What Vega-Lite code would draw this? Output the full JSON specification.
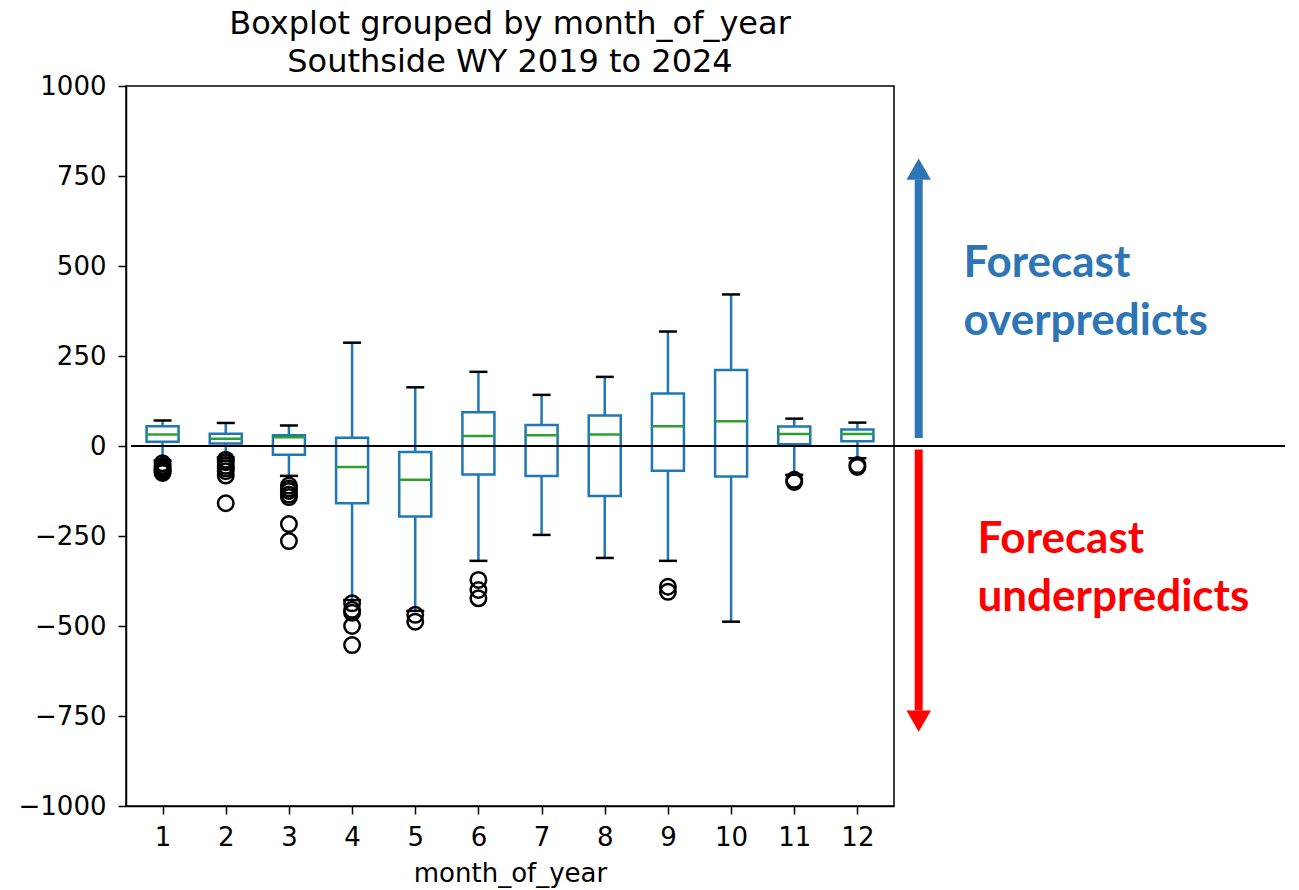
{
  "$schema": "https://vega.github.io/schema/vega-lite/v6.json",
  "width": 768,
  "height": 720,
  "autosize": {"type": "none"},
  "padding": {"left": 126, "top": 86, "right": 405, "bottom": 84},
  "background": "white",
  "title": {
    "text": ["Boxplot grouped by month_of_year", "Southside WY 2019 to 2024"],
    "font": "DejaVu Sans",
    "fontSize": 32,
    "fontWeight": "normal",
    "lineHeight": 38,
    "anchor": "middle",
    "offset": -6,
    "color": "black"
  },
  "config": {
    "view": {"stroke": "black", "strokeWidth": 1.5},
    "axis": {
      "labelFont": "DejaVu Sans",
      "titleFont": "DejaVu Sans",
      "labelFontSize": 26,
      "titleFontSize": 26,
      "titleFontWeight": "normal",
      "labelColor": "black",
      "titleColor": "black",
      "tickColor": "black",
      "domainColor": "black",
      "tickSize": 8,
      "tickWidth": 1.5,
      "domainWidth": 1.5,
      "grid": false
    }
  },
  "datasets": {
    "boxes": [
      {"month": 1, "low": -40, "q1": 12, "median": 32, "q3": 55, "high": 71},
      {"month": 2, "low": -32, "q1": 7, "median": 20, "q3": 34, "high": 64},
      {"month": 3, "low": -83, "q1": -24, "median": 24, "q3": 30, "high": 57},
      {"month": 4, "low": -428, "q1": -159, "median": -58, "q3": 23, "high": 287},
      {"month": 5, "low": -458, "q1": -196, "median": -94, "q3": -17, "high": 163},
      {"month": 6, "low": -319, "q1": -79, "median": 28, "q3": 94, "high": 206},
      {"month": 7, "low": -247, "q1": -83, "median": 30, "q3": 58, "high": 142},
      {"month": 8, "low": -311, "q1": -139, "median": 32, "q3": 85, "high": 192},
      {"month": 9, "low": -319, "q1": -69, "median": 55, "q3": 146, "high": 318},
      {"month": 10, "low": -488, "q1": -85, "median": 69, "q3": 211, "high": 421},
      {"month": 11, "low": -80, "q1": 5, "median": 33, "q3": 54, "high": 76},
      {"month": 12, "low": -34, "q1": 13, "median": 33, "q3": 46, "high": 65}
    ],
    "outliers": [
      {"month": 1, "value": -48}, {"month": 1, "value": -55}, {"month": 1, "value": -60},
      {"month": 1, "value": -65}, {"month": 1, "value": -70}, {"month": 1, "value": -75},
      {"month": 2, "value": -38}, {"month": 2, "value": -45}, {"month": 2, "value": -55},
      {"month": 2, "value": -62}, {"month": 2, "value": -70}, {"month": 2, "value": -82},
      {"month": 2, "value": -159},
      {"month": 3, "value": -110}, {"month": 3, "value": -118}, {"month": 3, "value": -125},
      {"month": 3, "value": -135}, {"month": 3, "value": -142}, {"month": 3, "value": -217},
      {"month": 3, "value": -264},
      {"month": 4, "value": -437}, {"month": 4, "value": -455}, {"month": 4, "value": -463},
      {"month": 4, "value": -500}, {"month": 4, "value": -553},
      {"month": 5, "value": -469}, {"month": 5, "value": -488},
      {"month": 6, "value": -372}, {"month": 6, "value": -400}, {"month": 6, "value": -423},
      {"month": 9, "value": -391}, {"month": 9, "value": -405},
      {"month": 11, "value": -94}, {"month": 11, "value": -100},
      {"month": 12, "value": -53}, {"month": 12, "value": -58}
    ],
    "arrows": [
      {"kind": "over", "x": 12.97, "from": 22, "to": 740, "head": 769, "shape": "triangle-up"},
      {"kind": "under", "x": 12.97, "from": -10, "to": -735, "head": -764, "shape": "triangle-down"}
    ],
    "labels": [
      {"kind": "over", "x": 13.68, "y": 469, "text": "Forecast"},
      {"kind": "over", "x": 13.68, "y": 308, "text": "overpredicts"},
      {"kind": "under", "x": 13.9, "y": -297, "text": "Forecast"},
      {"kind": "under", "x": 13.9, "y": -458, "text": "underpredicts"}
    ],
    "zero": [{"x1": 0.5, "x2": 18.77, "y": 0}]
  },
  "layer": [
    {
      "data": {"name": "boxes"},
      "mark": {"type": "rule", "color": "#1f77b4", "strokeWidth": 2.5},
      "encoding": {
        "x": {"field": "month", "type": "quantitative",
              "scale": {"domain": [0.5, 12.5], "nice": false, "zero": false},
              "axis": {"values": [1,2,3,4,5,6,7,8,9,10,11,12], "format": "d", "title": "month_of_year", "titlePadding": 10, "labelPadding": 10}},
        "y": {"field": "q3", "type": "quantitative",
              "scale": {"domain": [-1000, 1000], "nice": false},
              "axis": {"values": [-1000,-750,-500,-250,0,250,500,750,1000], "format": "d", "title": null, "labelPadding": 12}},
        "y2": {"field": "high"}
      }
    },
    {
      "data": {"name": "boxes"},
      "mark": {"type": "rule", "color": "#1f77b4", "strokeWidth": 2.5},
      "encoding": {
        "x": {"field": "month", "type": "quantitative"},
        "y": {"field": "low", "type": "quantitative"},
        "y2": {"field": "q1"}
      }
    },
    {
      "data": {"name": "boxes"},
      "mark": {"type": "bar", "filled": false, "stroke": "#1f77b4", "strokeWidth": 2.5, "width": 32},
      "encoding": {
        "x": {"field": "month", "type": "quantitative"},
        "y": {"field": "q1", "type": "quantitative"},
        "y2": {"field": "q3"}
      }
    },
    {
      "data": {"name": "boxes"},
      "mark": {"type": "tick", "orient": "horizontal", "color": "#2ca02c", "size": 32, "thickness": 2.5, "opacity": 1},
      "encoding": {
        "x": {"field": "month", "type": "quantitative"},
        "y": {"field": "median", "type": "quantitative"}
      }
    },
    {
      "data": {"name": "boxes"},
      "mark": {"type": "tick", "orient": "horizontal", "color": "black", "size": 18, "thickness": 2.5, "opacity": 1},
      "encoding": {
        "x": {"field": "month", "type": "quantitative"},
        "y": {"field": "high", "type": "quantitative"}
      }
    },
    {
      "data": {"name": "boxes"},
      "mark": {"type": "tick", "orient": "horizontal", "color": "black", "size": 18, "thickness": 2.5, "opacity": 1},
      "encoding": {
        "x": {"field": "month", "type": "quantitative"},
        "y": {"field": "low", "type": "quantitative"}
      }
    },
    {
      "data": {"name": "outliers"},
      "mark": {"type": "point", "shape": "circle", "filled": false, "color": "black", "strokeWidth": 2.5, "size": 240, "opacity": 1},
      "encoding": {
        "x": {"field": "month", "type": "quantitative"},
        "y": {"field": "value", "type": "quantitative"}
      }
    },
    {
      "data": {"name": "zero"},
      "mark": {"type": "rule", "color": "black", "strokeWidth": 2},
      "encoding": {
        "x": {"field": "x1", "type": "quantitative"},
        "x2": {"field": "x2"},
        "y": {"field": "y", "type": "quantitative"}
      }
    },
    {
      "data": {"name": "arrows"},
      "mark": {"type": "rule", "strokeWidth": 8},
      "encoding": {
        "x": {"field": "x", "type": "quantitative"},
        "y": {"field": "from", "type": "quantitative"},
        "y2": {"field": "to"},
        "color": {"field": "kind", "type": "nominal", "scale": {"domain": ["over", "under"], "range": ["#2e75b6", "#ff0000"]}, "legend": null}
      }
    },
    {
      "data": {"name": "arrows"},
      "mark": {"type": "point", "filled": true, "size": 600, "opacity": 1},
      "encoding": {
        "x": {"field": "x", "type": "quantitative"},
        "y": {"field": "head", "type": "quantitative"},
        "shape": {"field": "shape", "type": "nominal", "scale": null},
        "color": {"field": "kind", "type": "nominal", "scale": {"domain": ["over", "under"], "range": ["#2e75b6", "#ff0000"]}, "legend": null}
      }
    },
    {
      "data": {"name": "labels"},
      "mark": {"type": "text", "align": "left", "baseline": "alphabetic", "font": "Lato", "fontWeight": "bold", "fontSize": 44},
      "encoding": {
        "x": {"field": "x", "type": "quantitative"},
        "y": {"field": "y", "type": "quantitative"},
        "text": {"field": "text"},
        "color": {"field": "kind", "type": "nominal", "scale": {"domain": ["over", "under"], "range": ["#2e75b6", "#ff0000"]}, "legend": null}
      }
    }
  ]
}
